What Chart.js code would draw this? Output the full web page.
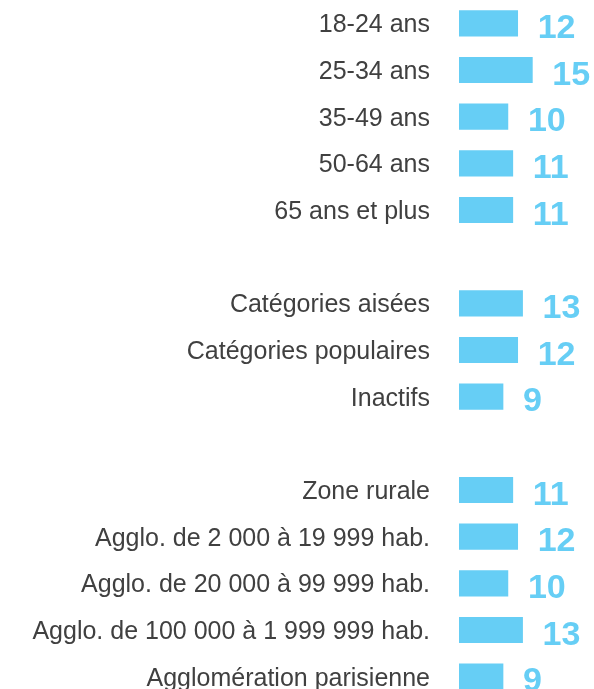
<!DOCTYPE html>
<html>
<head>
<meta charset="utf-8">
<script src="https://cdn.jsdelivr.net/npm/chart.js"></script>
<style>
  html, body { margin: 0; padding: 0; background: #fff; overflow: hidden; }
  #wrap { position: relative; width: 594px; height: 700px; }
</style>
</head>
<body>
<div id="wrap"><canvas id="chart"></canvas></div>
<script>
// Rows of the chart, empty strings are the spacer rows between groups
const categories = [
  '18-24 ans', '25-34 ans', '35-49 ans', '50-64 ans', '65 ans et plus',
  '',
  'Catégories aisées', 'Catégories populaires', 'Inactifs',
  '',
  'Zone rurale', 'Agglo. de 2 000 à 19 999 hab.', 'Agglo. de 20 000 à 99 999 hab.',
  'Agglo. de 100 000 à 1 999 999 hab.', 'Agglomération parisienne'
];
const values = [12, 15, 10, 11, 11, null, 13, 12, 9, null, 11, 12, 10, 13, 9];

const BLUE = '#66cef5';

// Draws the bold value just right of each bar
const valueLabels = {
  id: 'valueLabels',
  afterDatasetsDraw(chart) {
    const ctx = chart.ctx;
    const meta = chart.getDatasetMeta(0);
    ctx.save();
    ctx.fillStyle = BLUE;
    ctx.font = 'bold 34px "Liberation Sans", Arial, sans-serif';
    ctx.textAlign = 'left';
    ctx.textBaseline = 'alphabetic';
    meta.data.forEach((bar, i) => {
      const v = values[i];
      if (v == null) return;
      ctx.fillText(String(v), bar.x + 20, bar.y + 14.5);
    });
    ctx.restore();
  }
};

new Chart(document.getElementById('chart').getContext('2d'), {
  type: 'bar',
  data: {
    labels: categories,
    datasets: [{
      data: values,
      backgroundColor: BLUE,
      borderWidth: 0,
      barThickness: 25.5
    }]
  },
  options: {
    indexAxis: 'y',
    responsive: true,
    maintainAspectRatio: false,
    animation: false,
    layout: { padding: 0 },
    plugins: {
      legend: { display: false },
      tooltip: { enabled: false }
    },
    scales: {
      x: {
        display: false,
        min: 0,
        max: 27.6
      },
      y: {
        grid: { display: false, drawTicks: false },
        border: { display: false },
        afterFit(scale) {
          scale.width = 459;
          scale.paddingTop = 0;
          scale.paddingBottom = 0;
        },
        ticks: {
          padding: 29,
          labelOffset: 2,
          color: '#404040',
          font: { family: '"Liberation Sans", Arial, sans-serif', size: 25 }
        }
      }
    }
  },
  plugins: [valueLabels]
});
</script>
</body>
</html>
